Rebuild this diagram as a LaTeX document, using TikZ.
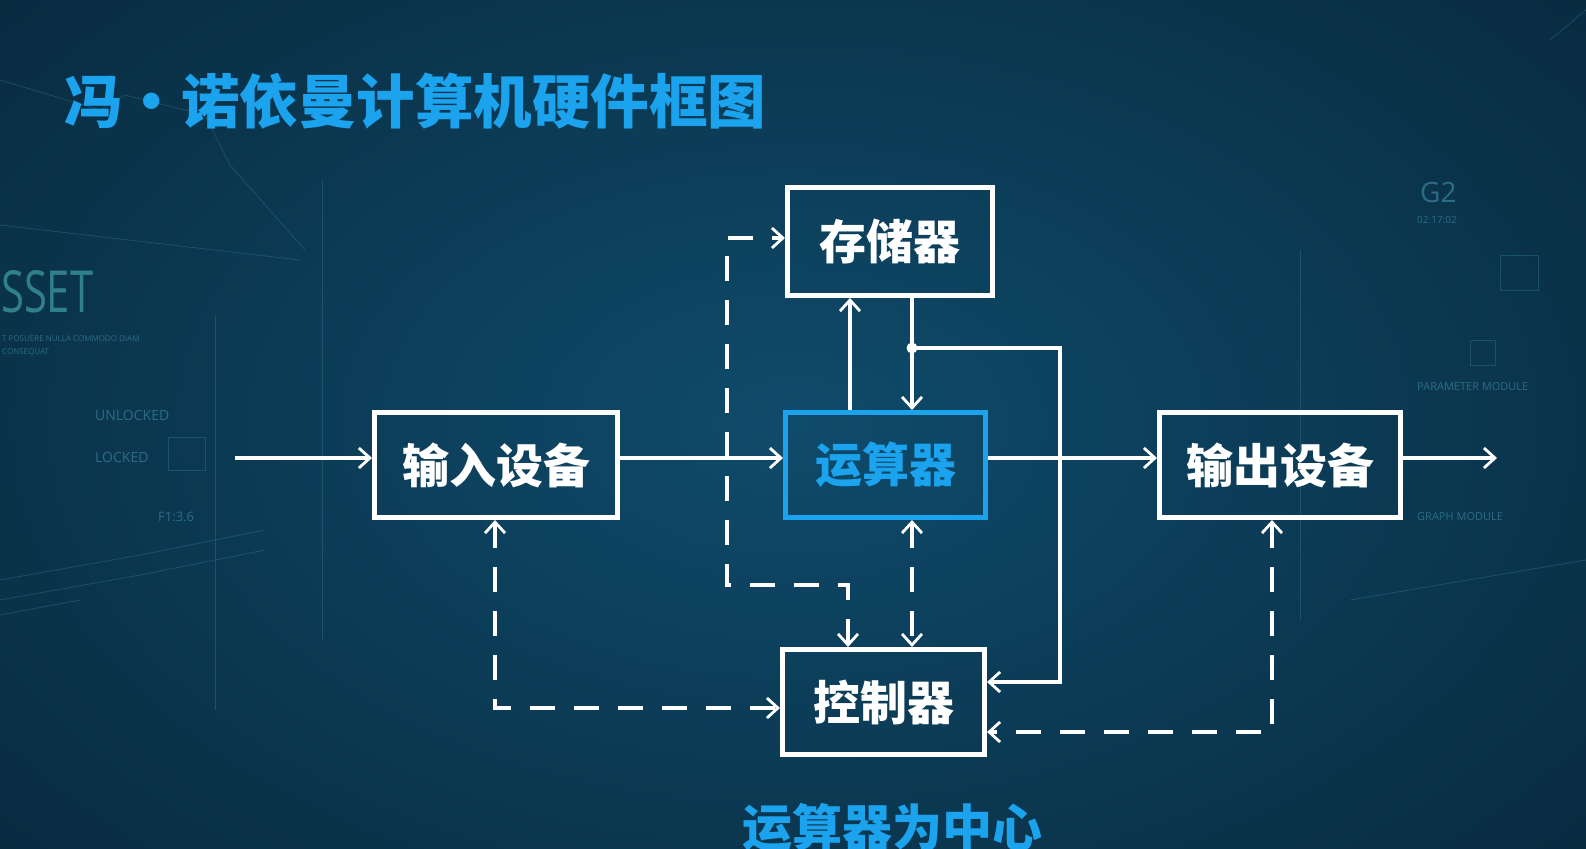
\documentclass[tikz,border=0pt]{standalone}
\usepackage{fontspec}
\newfontfamily\cjk{Noto Sans CJK SC}
\newfontfamily\hud{Open Sans}
\usetikzlibrary{arrows.meta,calc}
\definecolor{bgin}{HTML}{0F4B6B}
\definecolor{bgout}{HTML}{082A3E}
\definecolor{skyblue}{HTML}{1BA3EE}
\definecolor{hudc}{HTML}{2C6C86}
\definecolor{hudg}{HTML}{2F8088}
\begin{document}
\begin{tikzpicture}[x=1pt,y=-1pt,
  box/.style={draw=white,line width=5pt,inner sep=0pt,text=white,
    font=\cjk\bfseries\fontsize{47}{47}\selectfont},
  conn/.style={draw=white,line width=4.2pt},
  dsh/.style={conn,dash pattern=on 25pt off 19pt},
  hudtxt/.style={text=hudc,inner sep=0pt,anchor=west,font=\hud},
  hudln/.style={draw=hudc,line width=0.8pt,opacity=0.5},
  >={Straight Barb[length=11pt,width=20pt,line width=2.8pt]}]
\useasboundingbox (0,0) rectangle (1586,848);
\shade[inner color=bgin,outer color=bgout] (-300,-250) rectangle (1886,1098);
% faint background decorations
\node[hudtxt,text=hudg,font=\hud\fontsize{58}{58}\selectfont,xscale=0.72] (hA) at (1,292) {SSET};
\node[hudtxt,font=\hud\fontsize{8}{8}\selectfont] (hB) at (2,339) {T POSUERE NULLA COMMODO DIAM};
\node[hudtxt,font=\hud\fontsize{8}{8}\selectfont] (hC) at (2,352) {CONSEQUAT};
\node[hudtxt,font=\hud\fontsize{14}{14}\selectfont] (hD) at (95,415) {UNLOCKED};
\node[hudtxt,font=\hud\fontsize{14}{14}\selectfont] (hE) at (95,457) {LOCKED};
\node[hudtxt,font=\hud\fontsize{13}{13}\selectfont] (hF) at (158,517) {F1:3.6};
\node[hudtxt,font=\hud\fontsize{28}{28}\selectfont] (hG) at (1420,192) {G2};
\node[hudtxt,font=\hud\fontsize{10}{10}\selectfont] (hH) at (1417,220) {02:17:02};
\node[hudtxt,font=\hud\fontsize{11}{11}\selectfont] (hI) at (1417,387) {PARAMETER MODULE};
\node[hudtxt,font=\hud\fontsize{11}{11}\selectfont] (hJ) at (1417,517) {GRAPH MODULE};
\draw[hudln] (0,80) -- (100,110) -- (125,95) -- (205,115) -- (230,165) -- (305,250);
\draw[hudln] (0,225) -- (300,260);
\draw[hudln] (0,580) -- (140,555) -- (265,530);
\draw[hudln] (0,600) -- (140,575) -- (265,550);
\draw[hudln] (0,615) -- (80,600);
\draw[hudln] (168,437) rectangle (205,470);
\draw[hudln] (215,315) -- (215,710);
\draw[hudln] (322,180) -- (322,640);
\draw[hudln] (1300,250) -- (1300,620);
\draw[hudln] (1500,255) rectangle (1538,290);
\draw[hudln] (1470,340) rectangle (1495,365);
\draw[hudln] (1350,600) -- (1586,560);
\draw[hudln] (1550,40) -- (1586,10);
% title texts
\node[anchor=west,text=skyblue,font=\cjk\bfseries\fontsize{58.5}{58.5}\selectfont,inner sep=0pt] (title) at (64,101) {冯・诺依曼计算机硬件框图};
\node[text=skyblue,font=\cjk\bfseries\fontsize{50}{50}\selectfont,inner sep=0pt] (foot) at (892,828) {运算器为中心};
% boxes
\node[box,minimum width=205pt,minimum height=108pt] (mem) at (890,241.5) {存储器};
\node[box,draw=skyblue,text=skyblue,minimum width=200pt,minimum height=105pt] (alu) at (885.5,465) {运算器};
\node[box,minimum width=202pt,minimum height=105pt] (ctl) at (883.5,702) {控制器};
\node[box,minimum width=243pt,minimum height=105pt] (inp) at (496,465) {输入设备};
\node[box,minimum width=241pt,minimum height=105pt] (out) at (1280,465) {输出设备};
% helper coordinates
\coordinate (src) at (235,458);
\coordinate (snk) at (1497,458);
\coordinate (xup) at (850,0);
\coordinate (xdn) at (912,0);
\coordinate (jn) at (912,348);
\coordinate (xr) at (1060,0);
\coordinate (xl) at (727,0);
\coordinate (xc) at (848,0);
\coordinate (ylo) at (0,585);
\coordinate (ymem) at (0,238);
\coordinate (yc1) at (0,682);
\coordinate (yc2) at (0,708);
\coordinate (yc3) at (0,732);
\coordinate (xin) at (495,0);
\coordinate (xout) at (1272,0);
% main flow
\draw[conn,->] (src) -- (src -| inp.west);
\draw[conn,->] ([yshift=7pt]inp.east) -- ([yshift=7pt]alu.west);
\draw[conn,->] ([yshift=7pt]alu.east) -- ([yshift=7pt]out.west);
\draw[conn,->] ([yshift=7pt]out.east) -- (snk);
% alu <-> mem
\draw[conn,->] (alu.north -| xup) -- (mem.south -| xup);
\draw[conn,->] (mem.south -| xdn) -- (alu.north -| xdn);
\draw[conn,->] (jn) -- (jn -| xr) -- (xr |- yc1) -- (ctl.east |- yc1);
\fill[white] (jn) circle (5.5pt);
% dashed control lines
\draw[dsh,<->] (ctl.north -| xc) -- (xc |- ylo) -- (xl |- ylo) -- (xl |- ymem) -- (mem.west |- ymem);
\draw[dsh,<->] (alu.south -| xdn) -- (ctl.north -| xdn);
\draw[dsh,<->] (inp.south -| xin) -- (xin |- yc2) -- (ctl.west |- yc2);
\draw[dsh,<->] (out.south -| xout) -- (xout |- yc3) -- (ctl.east |- yc3);
\end{tikzpicture}
\end{document}
